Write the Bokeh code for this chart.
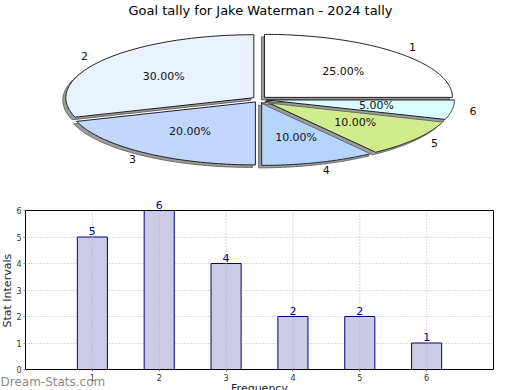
import numpy as np
from bokeh.plotting import figure
from bokeh.models import (Range1d, ColumnDataSource, LabelSet, FixedTicker, Title,
                          LinearAxis, Span)
from bokeh.layouts import column
from bokeh.embed import file_html
from bokeh.resources import INLINE
from bokeh.core.properties import value

# ---------------- data ----------------
title_text = "Goal tally for Jake Waterman - 2024 tally"
categories = ["1", "2", "3", "4", "5", "6"]
counts = [5, 6, 4, 2, 2, 1]
slice_colors = ["#ffffff", "#eaf1ff", "#c3d7fe", "#b6d5fe", "#d0ec8c", "#d9ffff"]
y_ticks = [0, 1, 2, 3, 4, 5, 6]
y_label = "Stat Intervals"
x_label = "Frequency"
watermark = "Dream-Stats.com"

FONT = "DejaVu Sans"

# layout constants (pixels)
FL, FR = 25, 493          # bar-chart frame left/right
PIE_H = 198
BAR_TOP, BAR_BOTTOM = 210, 369

# ---------------- pie (pixel coordinates) ----------------
pie = figure(width=520, height=PIE_H, x_range=Range1d(FL, FR), y_range=Range1d(PIE_H, 0),
             output_backend="svg", toolbar_location=None, min_border=0,
             min_border_left=FL, min_border_right=520 - FR)
pie.axis.visible = False
pie.grid.visible = False
pie.outline_line_color = None

total = float(sum(counts))
fracs = [c / total for c in counts]
cx, cy, rx, ry = 259.0, 99.0, 188.0, 63.0

xs, ys, fills, lines = [], [], [], []
out_x, out_y, in_x, in_y, pct = [], [], [], [], []
start = 0.0
for f, col in zip(fracs, slice_colors):
    a0 = start
    a1 = start + 2 * np.pi * f
    start = a1
    mid = (a0 + a1) / 2
    ox = cx + 7 * np.cos(mid)
    oy = cy - 3 * np.sin(mid)
    t = np.linspace(a0, a1, 90)
    px = np.concatenate([[ox], ox + rx * np.cos(t)])
    py = np.concatenate([[oy], oy - ry * np.sin(t)])
    xs.append(list(px - 3)); ys.append(list(py + 2.5))
    fills.append("#9c9c9c"); lines.append("#6a6a6a")
    xs.append(list(px)); ys.append(list(py))
    fills.append(col); lines.append("#1e1e1e")
    out_x.append(cx + 1.15 * rx * np.cos(mid))
    out_y.append(cy - 1.17 * ry * np.sin(mid))
    in_x.append(cx + 0.63 * rx * np.cos(mid))
    in_y.append(cy - 0.63 * ry * np.sin(mid))
    pct.append("%.2f%%" % (f * 100))

pie.patches(xs=xs, ys=ys, fill_color=fills, line_color=lines, line_width=1)

pie.text(x=in_x, y=in_y, text=pct, text_align="center", text_baseline="middle",
         text_font=value(FONT), text_font_size="11px", text_color="#111111")
pie.text(x=out_x, y=out_y, text=categories, text_align="center", text_baseline="middle",
         text_font=value(FONT), text_font_size="11px", text_color="#111111")
pie.text(x=[260], y=[10], text=[title_text], text_align="center", text_baseline="middle",
         text_font=value(FONT), text_font_size="13px", text_color="#000000")

# ---------------- bar chart ----------------
ymax = y_ticks[-1]
# frame extends a little above the plot box so that the top value label is not clipped
y_end = ymax * (BAR_BOTTOM - PIE_H) / (BAR_BOTTOM - BAR_TOP)
xpos = list(range(1, len(categories) + 1))
bars = figure(width=520, height=390 - PIE_H, x_range=Range1d(0, len(categories) + 1),
              y_range=Range1d(0, y_end), output_backend="svg", toolbar_location=None,
              min_border_left=FL, min_border_right=520 - FR, min_border_top=0,
              min_border_bottom=390 - BAR_BOTTOM)
bars.outline_line_color = None
bars.xgrid.visible = False
bars.ygrid.grid_line_color = "#b8b8b8"
bars.ygrid.grid_line_dash = "1 2"

src = ColumnDataSource(dict(x=xpos, top=counts, label=[str(c) for c in counts]))
bars.vbar(x="x", top="top", bottom=0, width=0.45, source=src,
          fill_color="#cbcbe5", line_color="#000080", line_width=1)

# vertical dotted grid lines at categories (drawn over the bars)
bars.segment(x0=xpos, y0=[0] * len(xpos), x1=xpos, y1=[ymax] * len(xpos),
             line_color="#b0b0b0", line_dash="1 2", line_width=1)
bars.add_layout(Span(location=ymax, dimension="width", line_color="#000000", line_width=1))

bars.add_layout(LabelSet(x="x", y="top", text="label", source=src, text_align="center",
                         text_baseline="bottom", y_offset=2, text_font=value(FONT),
                         text_font_size="11px", text_color="#000099"))

bars.xaxis.ticker = FixedTicker(ticks=xpos)
bars.xaxis.major_label_overrides = {i: c for i, c in zip(xpos, categories)}
bars.yaxis.ticker = FixedTicker(ticks=y_ticks)
bars.yaxis.bounds = (0, ymax)
right_axis = LinearAxis(ticker=FixedTicker(ticks=[]), bounds=(0, ymax))
bars.add_layout(right_axis, "right")
for ax in (bars.xaxis[0], bars.yaxis[0], right_axis):
    ax.major_label_text_font = FONT
    ax.major_tick_in = 0
    ax.major_tick_out = 2
    ax.major_tick_line_color = "#888888"
    ax.minor_tick_line_color = None
    ax.axis_line_color = "#000000"
    ax.major_label_standoff = 2
for ax in (bars.xaxis[0], bars.yaxis[0]):
    ax.major_label_text_font_size = "8px"
    ax.major_label_text_color = "#333333"

# y label (left), watermark and x label (below) as panel titles
bars.add_layout(Title(text=y_label, align="left", offset=42, standoff=-3, vertical_align="middle",
                      text_font=FONT, text_font_size="11px", text_font_style="normal",
                      text_color="#222222"), "left")
bars.add_layout(Title(text=watermark, align="left", offset=-FL, standoff=-18,
                      vertical_align="top", text_font=FONT, text_font_size="12px",
                      text_font_style="normal", text_color="#8c8c8c"), "below")
bars.add_layout(Title(text=x_label, align="center", standoff=-8, vertical_align="bottom",
                      text_font=FONT, text_font_size="11px", text_font_style="normal",
                      text_color="#222222"), "below")

layout = column(pie, bars, spacing=0)
open("out.html", "w").write(file_html(layout, INLINE))
